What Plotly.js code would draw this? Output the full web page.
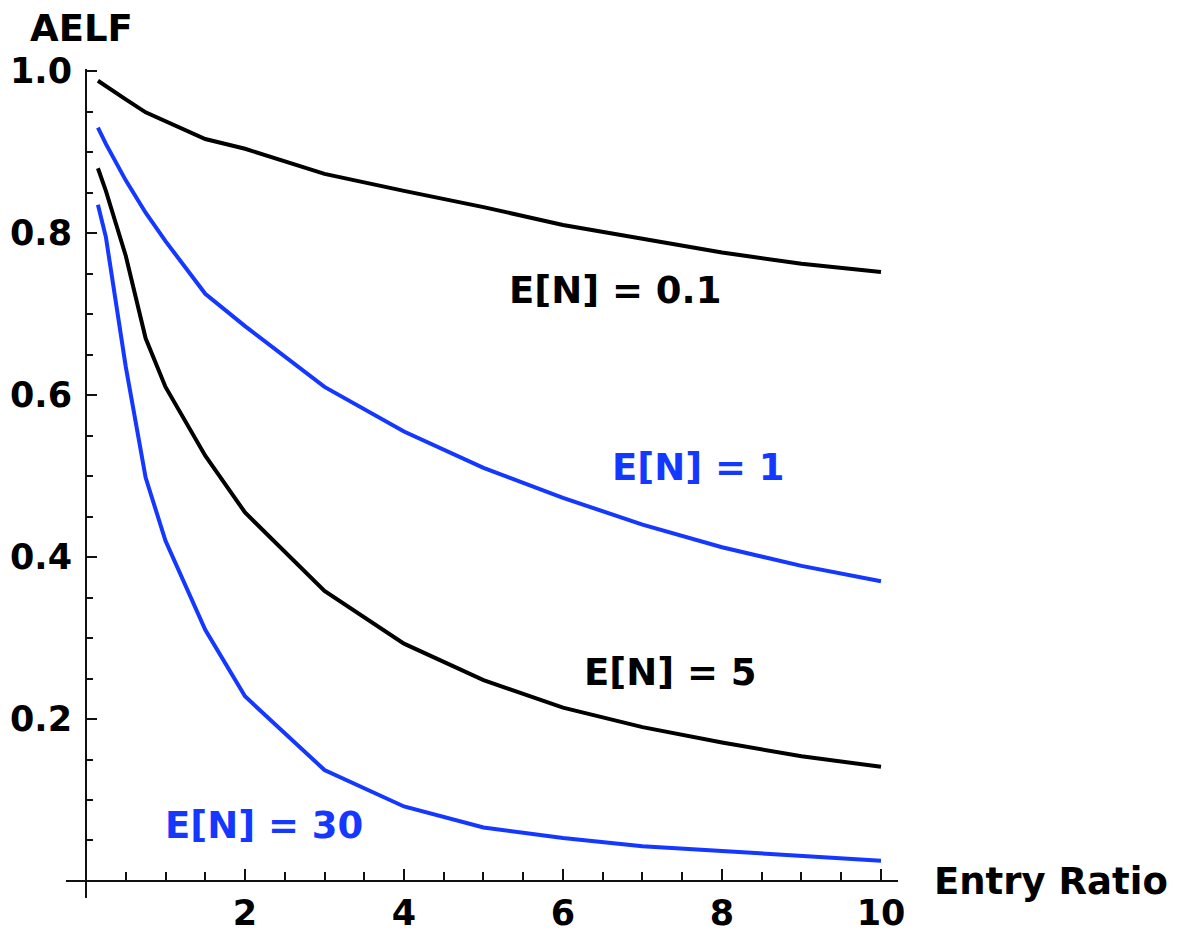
<!DOCTYPE html>
<html>
<head>
<meta charset="utf-8">
<script src="https://cdn.plot.ly/plotly-3.0.1.min.js"></script>
<style>html,body{margin:0;padding:0;background:#fff;}#chart{width:1178px;height:932px;}</style>
</head>
<body>
<div id="chart"></div>
<script>
// Entry ratio sample points
const entryRatio = [0.15, 0.25, 0.5, 0.75, 1, 1.5, 2, 3, 4, 5, 6, 7, 8, 9, 10];
// AELF values per E[N]
const aelfEN01 = [0.988, 0.981, 0.965, 0.949, 0.938, 0.916, 0.904, 0.873, 0.852, 0.832, 0.810, 0.793, 0.776, 0.762, 0.752];
const aelfEN1  = [0.930, 0.910, 0.865, 0.825, 0.790, 0.725, 0.685, 0.610, 0.555, 0.510, 0.473, 0.440, 0.412, 0.389, 0.370];
const aelfEN5  = [0.880, 0.852, 0.772, 0.670, 0.610, 0.525, 0.455, 0.358, 0.293, 0.248, 0.214, 0.190, 0.171, 0.154, 0.141];
const aelfEN30 = [0.835, 0.795, 0.635, 0.498, 0.420, 0.310, 0.228, 0.137, 0.092, 0.066, 0.053, 0.043, 0.037, 0.031, 0.025];

const seriesLabels = ["E[N] = 0.1", "E[N] = 1", "E[N] = 5", "E[N] = 30"];
const xTicks = [2, 4, 6, 8, 10];
const xTickText = ["2", "4", "6", "8", "10"];
const yTicks = [0.2, 0.4, 0.6, 0.8, 1.0];
const yTickText = ["0.2", "0.4", "0.6", "0.8", "1.0"];
const xMinor = [0.5, 1, 1.5, 2.5, 3, 3.5, 4.5, 5, 5.5, 6.5, 7, 7.5, 8.5, 9, 9.5];
const yMinor = [0.05, 0.1, 0.15, 0.25, 0.3, 0.35, 0.45, 0.5, 0.55, 0.65, 0.7, 0.75, 0.85, 0.9, 0.95];

const BLUE = "#1438ff";
const BLACK = "#000000";
const FONT = "DejaVu Sans, Verdana, sans-serif";

function tr(y, color) {
  return {x: entryRatio, y: y, type: "scatter", mode: "lines",
    line: {color: color, width: 4}, hoverinfo: "skip", showlegend: false};
}
const data = [tr(aelfEN01, BLACK), tr(aelfEN1, BLUE), tr(aelfEN5, BLACK), tr(aelfEN30, BLUE)];

const labFont = (c) => ({family: FONT, size: 37, color: c, weight: "bold"});
const base = {showarrow: false, xanchor: "center", yanchor: "middle"};
const annotations = [
  {xref: "x", yref: "y", x: 6.65, y: 0.729, text: seriesLabels[0], font: labFont(BLACK)},
  {xref: "x", yref: "y", x: 7.70, y: 0.510, text: seriesLabels[1], font: labFont(BLUE)},
  {xref: "x", yref: "y", x: 7.35, y: 0.258, text: seriesLabels[2], font: labFont(BLACK)},
  {xref: "x", yref: "y", x: 2.24, y: 0.069, text: seriesLabels[3], font: labFont(BLUE)},
  {xref: "paper", yref: "paper", x: 0.0192, y: 1.049, text: "AELF", font: labFont(BLACK)},
  {xref: "paper", yref: "paper", x: 1.184, y: 0.0195, text: "Entry Ratio", font: labFont(BLACK)}
].map(a => Object.assign({}, base, a));

const layout = {
  width: 1178, height: 932,
  margin: {l: 66, r: 280, t: 69, b: 34, pad: 0},
  paper_bgcolor: "#fff", plot_bgcolor: "#fff",
  showlegend: false,
  xaxis: {
    range: [-0.2516, 10.214], anchor: "free", position: 17/829,
    showgrid: false, zeroline: false, showline: true, linecolor: "#111", linewidth: 2,
    tickmode: "array", tickvals: xTicks, ticktext: xTickText,
    ticks: "inside", ticklen: 11, tickwidth: 2, tickcolor: "#111",
    tickfont: {family: FONT, size: 35, color: "#000", weight: "bold"},
    ticklabelstandoff: 1,
    minor: {tickmode: "array", tickvals: xMinor, ticks: "inside", ticklen: 8, tickwidth: 2, tickcolor: "#111", showgrid: false}
  },
  yaxis: {
    range: [-0.021, 1.0025], anchor: "free", position: 20/832,
    showgrid: false, zeroline: false, showline: true, linecolor: "#111", linewidth: 2,
    tickmode: "array", tickvals: yTicks, ticktext: yTickText,
    ticks: "inside", ticklen: 10, tickwidth: 2, tickcolor: "#111",
    tickfont: {family: FONT, size: 35, color: "#000", weight: "bold"},
    ticklabelstandoff: 6,
    minor: {tickmode: "array", tickvals: yMinor, ticks: "inside", ticklen: 6, tickwidth: 2, tickcolor: "#111", showgrid: false}
  },
  annotations: annotations
};

Plotly.newPlot("chart", data, layout, {staticPlot: true, displayModeBar: false});
</script>
</body>
</html>
